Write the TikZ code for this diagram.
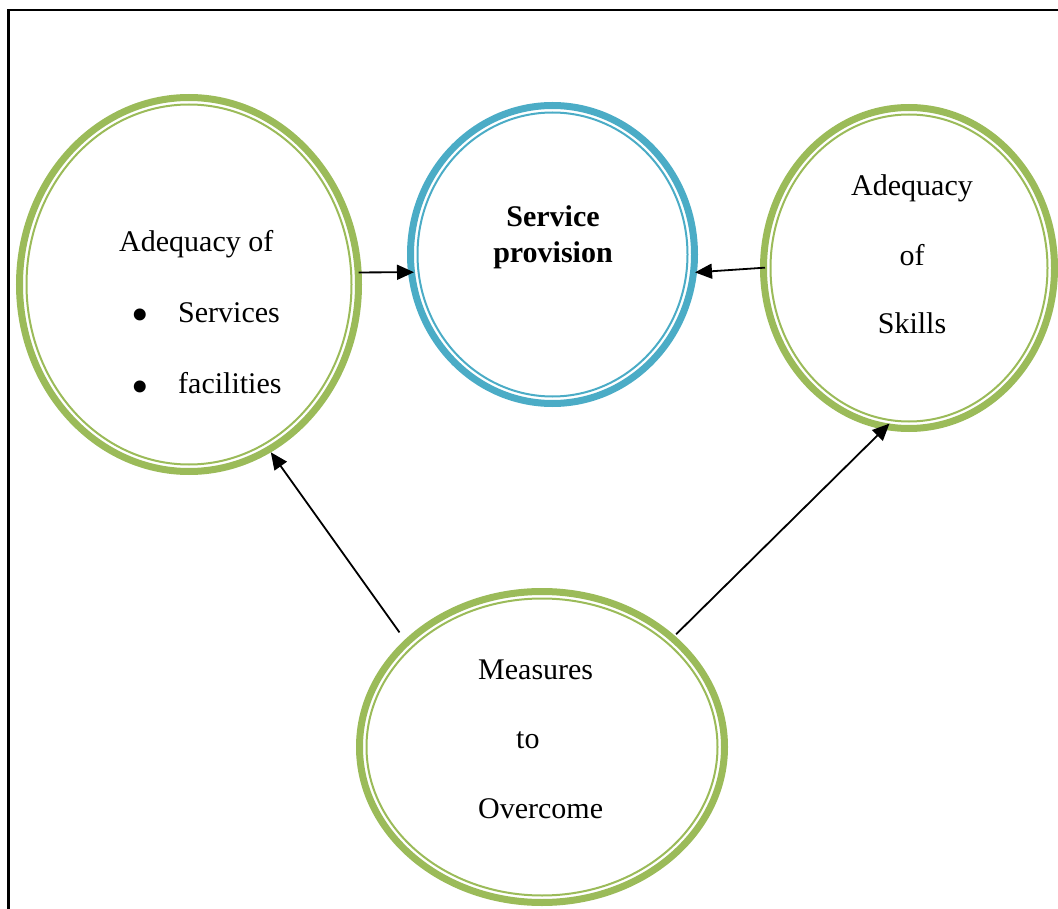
\documentclass[tikz,border=0pt]{standalone}
\usepackage{fontspec}
\setmainfont{Liberation Serif}
\usetikzlibrary{shapes.geometric,arrows.meta}

\definecolor{ringgreen}{RGB}{155,187,89}
\definecolor{ringblue}{RGB}{75,172,198}

\tikzset{
  ring/.style={ellipse, draw=none, inner sep=0pt, outer sep=0pt},
  thickring/.style={line width=7pt},
  thinring/.style={line width=2pt},
  txt/.style={font=\fontsize{30}{36}\selectfont, inner sep=0pt},
  bulletmark/.style={font=\fontsize{50}{50}\selectfont, inner sep=0pt, anchor=base},
  link/.style={line width=1.8pt, -{Triangle[length=17pt,width=15pt]}},
}

\begin{document}
\begin{tikzpicture}[x=1pt, y=-1pt]
  \useasboundingbox (0,0) rectangle (1058,909);
  \clip (0,0) rectangle (1058,909);

  % outer frame
  \draw[line width=2.4pt] (8.3,10.3) rectangle (1100,960);

  % ring nodes (sized to the outer edge of each ring)
  \node[ring, minimum width=346pt, minimum height=381pt] (adequacy) at (189,284.5) {};
  \node[ring, minimum width=291pt, minimum height=305pt] (provision) at (552.5,254.5) {};
  \node[ring, minimum width=298pt, minimum height=328pt] (skills) at (909,268) {};
  \node[ring, minimum width=372pt, minimum height=318pt] (measures) at (542,747) {};

  % double rings: thick outer line, thin inner line
  \draw[ringgreen, thickring] (adequacy.center) ellipse [x radius=169.5, y radius=187];
  \draw[ringgreen, thinring]  (adequacy.center) ellipse [x radius=162.5, y radius=180];
  \draw[ringblue, thickring]  (provision.center) ellipse [x radius=142, y radius=149];
  \draw[ringblue, thinring]   (provision.center) ellipse [x radius=135, y radius=142];
  \draw[ringgreen, thickring] (skills.center) ellipse [x radius=145.5, y radius=160.5];
  \draw[ringgreen, thinring]  (skills.center) ellipse [x radius=138.5, y radius=153.5];
  \draw[ringgreen, thickring] (measures.center) ellipse [x radius=182.5, y radius=155.5];
  \draw[ringgreen, thinring]  (measures.center) ellipse [x radius=175.5, y radius=148.5];

  % texts
  \node[txt, anchor=base west] (adqTitle) at (119,252) {Adequacy of};
  \node[bulletmark] (adqBulletA) at (140,332) {\textbullet};
  \node[txt, anchor=base west] (adqServices) at (178,323) {Services};
  \node[bulletmark] (adqBulletB) at (140,403) {\textbullet};
  \node[txt, anchor=base west] (adqFacilities) at (178,394) {facilities};

  \node[txt, anchor=base] (provA) at (553,227) {\textbf{Service}};
  \node[txt, anchor=base] (provB) at (553,263) {\textbf{provision}};

  \node[txt, anchor=base] (sklA) at (912,196) {Adequacy};
  \node[txt, anchor=base] (sklB) at (912,266) {of};
  \node[txt, anchor=base] (sklC) at (912,334) {Skills};

  \node[txt, anchor=base west] (msrA) at (478,679) {Measures};
  \node[txt, anchor=base west] (msrB) at (516,748.5) {to};
  \node[txt, anchor=base west] (msrC) at (478,818) {Overcome};

  % connectors
  \draw[link, shorten <=-3pt, shorten >=-6pt] (adequacy.4.4) -- (provision.187.6);
  \draw[link, shorten <=-5pt, shorten >=-2pt] (skills.180.8) -- (provision.-7);
  \draw[link, shorten <=9pt] (measures.142.9) -- (adequacy.-64.3);
  \draw[link, shorten <=2pt, shorten >=-8.5pt] (measures.40.6) -- (skills.-99.9);
\end{tikzpicture}
\end{document}
